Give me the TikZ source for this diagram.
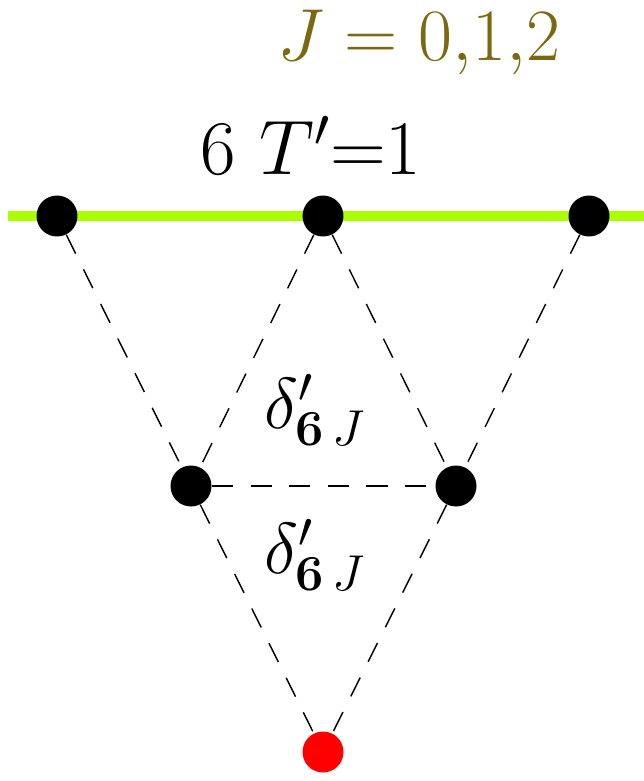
\documentclass[tikz,border=0pt]{standalone}
\usepackage{fix-cm}
\usepackage{amsmath}
\definecolor{limegreen}{RGB}{170,255,0}
\definecolor{olivetext}{RGB}{122,104,18}
\begin{document}
\begin{tikzpicture}[x=0.02cm, y=-0.02cm,
    dot/.style={circle, fill=black, minimum size=0.82cm, inner sep=0pt},
    reddot/.style={dot, fill=red},
    link/.style={dashed, line width=0.8pt, dash pattern=on 12pt off 10pt},
    deltalabel/.style={font=\fontsize{41}{46}\selectfont}]
        \useasboundingbox (0,0) rectangle (644,781);
        \coordinate (lineL) at (8,216);
        \coordinate (lineR) at (644,216);
        \draw[limegreen, line width=6pt] (lineL) -- (lineR);

        \node[dot] (t1) at (57,216) {};
        \node[dot] (t2) at (323,216) {};
        \node[dot] (t3) at (589,216) {};
        \node[dot] (m1) at (191,486) {};
        \node[dot] (m2) at (456,486) {};
        \node[reddot] (b) at (323,752) {};

        \node[text=olivetext, font=\fontsize{42}{48}\selectfont] (jlabel) at (419,42) {$J=0{,}1{,}2$};
        \node[font=\fontsize{44}{50}\selectfont] (tlabel) at (311,145) {$6\ T'{=}1$};
        \node[deltalabel] (d1) at (315,410) {$\delta'_{\mathbf{6}\,J}$};
        \node[deltalabel] (d2) at (315,555) {$\delta'_{\mathbf{6}\,J}$};

        \draw[link] (t1) -- (m1);
        \draw[link] (t2) -- (m1);
        \draw[link] (t2) -- (m2);
        \draw[link] (t3) -- (m2);
        \draw[link] (m1) -- (m2);
        \draw[link] (m1) -- (b);
        \draw[link] (m2) -- (b);
    \end{tikzpicture}
\end{document}
